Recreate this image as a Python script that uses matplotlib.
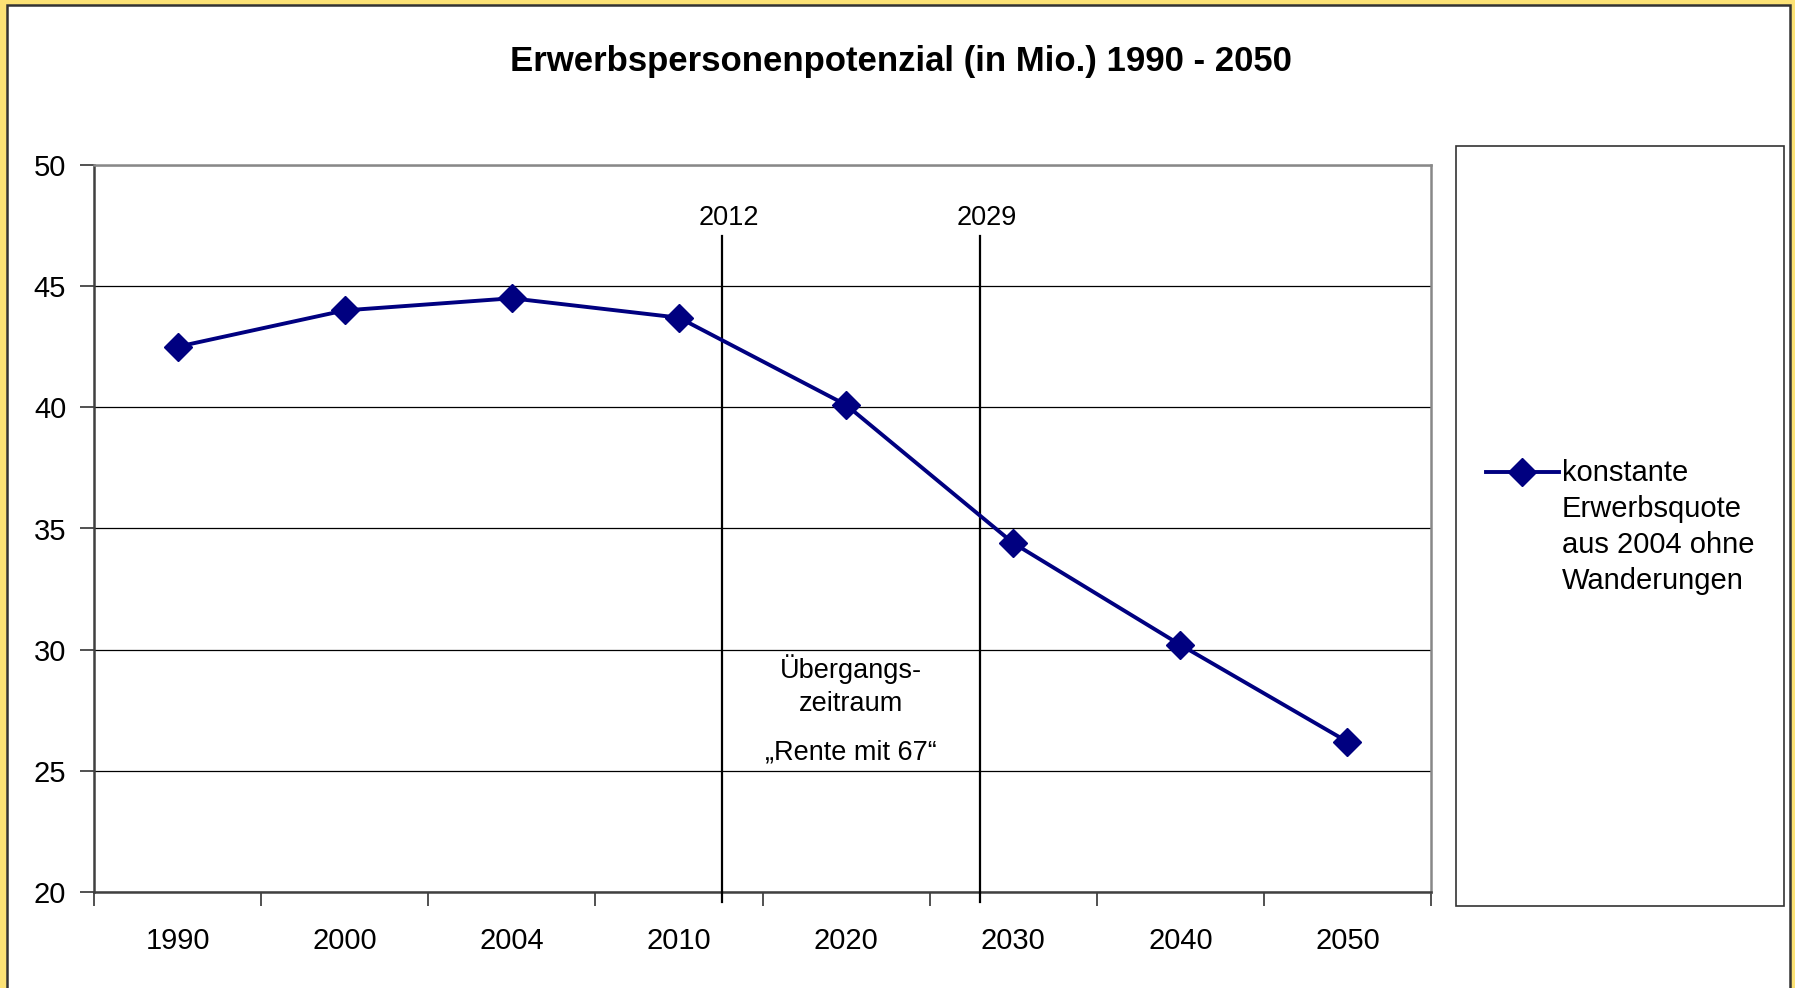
import matplotlib
matplotlib.use('Agg')
import matplotlib.pyplot as plt
import matplotlib.patches as mpatches
import matplotlib.lines as mlines

# --- Data ---
years = ['1990', '2000', '2004', '2010', '2020', '2030', '2040', '2050']
potential = [42.5, 44.0, 44.5, 43.7, 40.1, 34.4, 30.2, 26.2]
series_label = 'konstante\nErwerbsquote\naus 2004 ohne\nWanderungen'
# marker years for the transition period, placed on the category axis
period_labels = ['2012', '2029']
period_pos = [3.26, 4.80]
period_text = 'Übergangs-\nzeitraum'
period_text2 = '„Rente mit 67“'

TITLE = 'Erwerbspersonenpotenzial (in Mio.) 1990 - 2050'
NAVY = '#000080'
YELLOW = '#FCE275'

plt.rcParams['font.family'] = ['Liberation Sans', 'DejaVu Sans']

fig = plt.figure(figsize=(17.95, 9.88), dpi=100)
fig.patch.set_facecolor(YELLOW)

# white inner panel with dark frame
fig.add_artist(mpatches.Rectangle((7 / 1795, -0.02), (1790 - 7) / 1795, 1.02 - 5 / 988,
                                  transform=fig.transFigure, facecolor='white',
                                  edgecolor='#333333', linewidth=1.8, zorder=0))

ax = fig.add_axes([94 / 1795, 1 - 892 / 988, (1431 - 94) / 1795, (892 - 165) / 988])
ax.set_facecolor('white')

x = list(range(len(years)))
line, = ax.plot(x, potential, color=NAVY, linewidth=2.8, marker='D', markersize=14,
                markerfacecolor=NAVY, markeredgecolor=NAVY, zorder=5, clip_on=False)

ax.set_xlim(-0.5, len(years) - 0.5)
ax.set_ylim(20, 50)
ax.set_yticks(range(20, 51, 5))
ax.yaxis.grid(True, color='black', linewidth=0.9)
ax.set_axisbelow(True)

# category axis: ticks between categories, labels centred
ax.set_xticks([i - 0.5 for i in range(len(years) + 1)])
ax.set_xticklabels([])
ax.set_xticks(x, minor=True)
ax.set_xticklabels(years, minor=True)
ax.tick_params(axis='x', which='major', length=10, width=1.2, color='#333333', direction='out')
ax.tick_params(axis='x', which='minor', length=0, pad=25, labelsize=21)
ax.tick_params(axis='y', length=10, width=1.2, color='#333333', direction='out', pad=10,
               labelsize=21)

for side in ['top', 'right']:
    ax.spines[side].set_color('#888888')
    ax.spines[side].set_linewidth(1.8)
for side in ['left', 'bottom']:
    ax.spines[side].set_color('#404040')
    ax.spines[side].set_linewidth(1.8)

# transition period markers
for lab, pos in zip(period_labels, period_pos):
    ax.plot([pos, pos], [19.6, 47.05], color='black', linewidth=1.6, clip_on=False, zorder=3)
    ax.text(pos + 0.04, 47.8, lab, ha='center', va='center', fontsize=19.5)

mid = (period_pos[0] + period_pos[1]) / 2
ax.text(mid, 28.5, period_text, ha='center', va='center', fontsize=19.5, linespacing=1.35)
ax.text(mid, 25.77, period_text2, ha='center', va='center', fontsize=19.5)

fig.text(901 / 1795, 1 - 61 / 988, TITLE, ha='center', va='center', fontsize=25,
         fontweight='bold')

# legend box
fig.add_artist(mpatches.Rectangle((1456 / 1795, 1 - 905.5 / 988), (1784 - 1456) / 1795,
                                  (905.5 - 146.5) / 988, transform=fig.transFigure,
                                  facecolor='white', edgecolor='#333333', linewidth=1.2))
ly = 1 - 471.7 / 988
fig.add_artist(mlines.Line2D([1486 / 1795, 1522 / 1795, 1559 / 1795], [ly, ly, ly],
                             transform=fig.transFigure, color=line.get_color(),
                             linewidth=line.get_linewidth(), marker='D', markersize=14,
                             markevery=[1]))
fig.text(1562 / 1795, 1 - 459 / 988, series_label, ha='left', va='top', fontsize=21,
         linespacing=1.36)

fig.savefig('out.png', dpi=100, facecolor=fig.get_facecolor())
